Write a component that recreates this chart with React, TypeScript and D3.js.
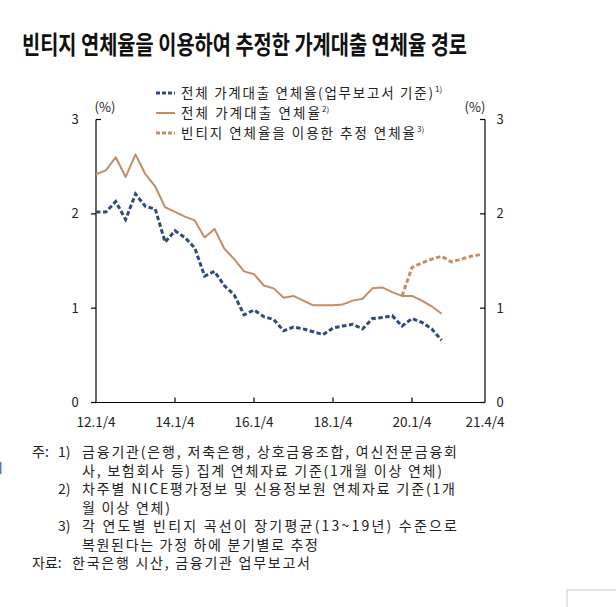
import React from "react";
import * as d3 from "d3";

const W = 616;
const H = 607;

const titleText = "빈티지 연체율을 이용하여 추정한 가계대출 연체율 경로";

// 2012Q1 .. 2020Q4 (index 0..35)
const blueValues = [
  2.02, 2.02, 2.13, 1.94, 2.21, 2.08, 2.05, 1.7, 1.82, 1.75, 1.64, 1.34,
  1.39, 1.24, 1.14, 0.93, 0.98, 0.91, 0.88, 0.76, 0.8, 0.78, 0.75, 0.72,
  0.79, 0.81, 0.83, 0.78, 0.89, 0.9, 0.92, 0.81, 0.89, 0.85, 0.78, 0.66,
];
const orangeValues = [
  2.42, 2.46, 2.6, 2.39, 2.63, 2.42, 2.29, 2.07, 2.02, 1.97, 1.93, 1.75,
  1.84, 1.63, 1.52, 1.39, 1.36, 1.24, 1.21, 1.11, 1.13, 1.08, 1.03, 1.03,
  1.03, 1.04, 1.08, 1.1, 1.21, 1.22, 1.17, 1.13, 1.13, 1.08, 1.02, 0.94,
];
// 2019Q4 .. 2021Q4 (index 31..39)
const estStart = 31;
const estValues = [1.13, 1.43, 1.48, 1.52, 1.55, 1.49, 1.52, 1.55, 1.57];

const yTicks = [0, 1, 2, 3];
const xTickIdx = [0, 8, 16, 24, 32, 39.4];
const xTickLabels = ["12.1/4", "14.1/4", "16.1/4", "18.1/4", "20.1/4", "21.4/4"];

const legendLabels = [
  "전체 가계대출 연체율(업무보고서 기준)",
  "전체 가계대출 연체율",
  "빈티지 연체율을 이용한 추정 연체율",
];
const legendSups = ["1)", "2)", "3)"];

const noteLines = [
  { lead: "주:", num: "1)", text: "금융기관(은행, 저축은행, 상호금융조합, 여신전문금융회" },
  { lead: "", num: "", text: "사, 보험회사 등) 집계 연체자료 기준(1개월 이상 연체)" },
  { lead: "", num: "2)", text: "차주별 NICE평가정보 및 신용정보원 연체자료 기준(1개" },
  { lead: "", num: "", text: "월 이상 연체)" },
  { lead: "", num: "3)", text: "각 연도별 빈티지 곡선이 장기평균(13~19년) 수준으로" },
  { lead: "", num: "", text: "복원된다는 가정 하에 분기별로 추정" },
];
const sourceLine = { lead: "자료:", text: "한국은행 시산, 금융기관 업무보고서" };

const BLUE = "#2f4a7d";
const ORANGE = "#c08e69";
const FONT = "'Noto Sans CJK KR', 'Noto Sans', sans-serif";

export default function App() {
  const x = d3.scaleLinear().domain([0, 39.4]).range([96, 485]);
  const y = d3.scaleLinear().domain([0, 3]).range([402.5, 119.5]);

  const line = d3
    .line<[number, number]>()
    .x((d) => x(d[0]))
    .y((d) => y(d[1]));

  const blueData: [number, number][] = blueValues.map((v, i) => [i, v]);
  const orangeData: [number, number][] = orangeValues.map((v, i) => [i, v]);
  const estData: [number, number][] = estValues.map((v, i) => [i + estStart, v]);

  const noteWidths = [375, 360, 373, 88, 375, 236];
  const noteY = [452, 470.5, 489, 507.5, 526, 544.5];
  const sourceY = 563;
  const NF = 14;

  const legendY = [93, 113, 133];
  const legendW = [252, 139, 234];

  return (
    <svg
      width={W}
      height={H}
      style={{ position: "absolute", left: 0, top: 0, background: "#fff" }}
      fontFamily={FONT}
    >
      <rect x={0} y={0} width={W} height={H} fill="#fff" />
      {/* Title */}
      <text
        x={22}
        y={54}
        fontSize={25}
        fontWeight={700}
        fill="#111"
        textLength={445}
        lengthAdjust="spacingAndGlyphs"
      >
        {titleText}
      </text>

      {/* Legend */}
      {legendLabels.map((lab, i) => (
        <g key={i}>
          <line
            x1={156}
            x2={175}
            y1={legendY[i]}
            y2={legendY[i]}
            stroke={i === 0 ? BLUE : ORANGE}
            strokeWidth={i === 1 ? 2 : 3}
            strokeDasharray={i === 1 ? undefined : "4,2"}
          />
          <text
            x={181}
            y={legendY[i] + 5}
            fontSize={13.5}
            fill="#222"
            textLength={legendW[i]}
            lengthAdjust="spacing"
          >
            {lab}
          </text>
          <text x={181 + legendW[i] + 2} y={legendY[i] - 1} fontSize={8} fill="#222">
            {legendSups[i]}
          </text>
        </g>
      ))}

      {/* (%) labels */}
      <text x={105} y={112} fontSize={13} fill="#222" textAnchor="middle">
        (%)
      </text>
      <text x={475} y={112} fontSize={13} fill="#222" textAnchor="middle">
        (%)
      </text>

      {/* Axes */}
      <line x1={96} x2={96} y1={y(3)} y2={y(0)} stroke="#000" strokeWidth={1.2} />
      <line x1={485} x2={485} y1={y(3)} y2={y(0)} stroke="#000" strokeWidth={1.2} />
      <line x1={96} x2={485} y1={y(0)} y2={y(0)} stroke="#000" strokeWidth={1.2} />
      {yTicks.map((t) => (
        <g key={t}>
          {t === 3 ? (
            <line x1={96} x2={101} y1={y(t)} y2={y(t)} stroke="#000" strokeWidth={1.2} />
          ) : (
            <line x1={91} x2={96} y1={y(t)} y2={y(t)} stroke="#000" strokeWidth={1.2} />
          )}
          <line x1={480} x2={485} y1={y(t)} y2={y(t)} stroke="#000" strokeWidth={1.2} />
          <text x={75} y={y(t) + 4.5} fontSize={13} fill="#222" textAnchor="middle">
            {t}
          </text>
          <text x={500} y={y(t) + 4.5} fontSize={13} fill="#222" textAnchor="middle">
            {t}
          </text>
        </g>
      ))}
      {xTickIdx.map((q, i) => (
        <g key={i}>
          {i > 0 && i < xTickIdx.length - 1 && (
            <line x1={x(q)} x2={x(q)} y1={y(0)} y2={y(0) - 5} stroke="#000" strokeWidth={1.2} />
          )}
          <text x={x(q)} y={426.5} fontSize={13.5} fill="#222" textAnchor="middle">
            {xTickLabels[i]}
          </text>
        </g>
      ))}

      {/* Series */}
      <path d={line(orangeData) || ""} fill="none" stroke={ORANGE} strokeWidth={2} strokeLinejoin="round" />
      <path
        d={line(estData) || ""}
        fill="none"
        stroke={ORANGE}
        strokeWidth={3}
        strokeDasharray="4.5,2.5"
      />
      <path
        d={line(blueData) || ""}
        fill="none"
        stroke={BLUE}
        strokeWidth={3}
        strokeDasharray="4.5,2.5"
      />

      {/* Notes */}
      {noteLines.map((n, i) => (
        <g key={i}>
          {n.lead && (
            <text x={32} y={noteY[i] + 5} fontSize={NF} fill="#222">
              {n.lead}
            </text>
          )}
          {n.num && (
            <text x={58} y={noteY[i] + 5} fontSize={NF} fill="#222">
              {n.num}
            </text>
          )}
          <text
            x={82}
            y={noteY[i] + 5}
            fontSize={NF}
            fill="#222"
            textLength={noteWidths[i]}
            lengthAdjust="spacing"
          >
            {n.text}
          </text>
        </g>
      ))}
      <text x={32} y={sourceY + 5} fontSize={NF} fill="#222">
        {sourceLine.lead}
      </text>
      <text x={72} y={sourceY + 5} fontSize={NF} fill="#222" textLength={238} lengthAdjust="spacing">
        {sourceLine.text}
      </text>

      {/* page edge marks */}
      <line x1={0} x2={0} y1={462} y2={474} stroke="#5b7fb8" strokeWidth={3} />
      <path d="M567,607 L567,590 L616,590" fill="none" stroke="#c8c8c8" strokeWidth={1} />
    </svg>
  );
}
